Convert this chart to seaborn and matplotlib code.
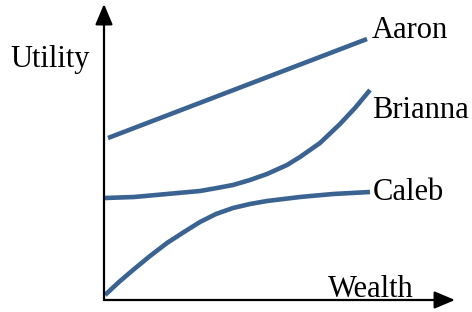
import matplotlib
matplotlib.use("Agg")
import matplotlib.pyplot as plt
import seaborn as sns
import pandas as pd

sns.set_theme(style="white")
plt.rcParams['font.family'] = ['Liberation Serif', 'DejaVu Serif']

# Values (wealth, utility in arbitrary units)
aaron_w = [4, 263]
aaron_u = [162, 261]
brianna_w = [1, 30, 63, 96, 113, 129, 146, 163, 183, 196, 216, 236, 251, 266]
brianna_u = [102, 103, 106, 109, 112, 115, 120, 126, 135, 143, 157, 176, 192, 210]
caleb_w = [1, 15, 29, 46, 63, 80, 96, 112, 129, 146, 163, 196, 229, 266]
caleb_u = [5, 18, 30, 44, 57, 68, 78, 86, 92, 96, 99, 103, 106, 108]
names = ["Aaron", "Brianna", "Caleb"]

rows = []
for n, ws, us in zip(names, [aaron_w, brianna_w, caleb_w], [aaron_u, brianna_u, caleb_u]):
    for w, u in zip(ws, us):
        rows.append({"name": n, "wealth": w, "utility": u})
df = pd.DataFrame(rows)

color = "#3b6392"
fig = plt.figure(figsize=(4.72, 3.12), dpi=100)
ax = fig.add_axes([104/472, 12/312, 368/472, 300/312])
sns.lineplot(data=df, x="wealth", y="utility", hue="name", units="name", estimator=None,
             sort=False, palette=[color]*3, linewidth=3.3, legend=False, ax=ax,
             solid_capstyle="butt", solid_joinstyle="round")
ax.set_xlim(0, 368)
ax.set_ylim(0, 300)
for s in ax.spines.values():
    s.set_visible(False)
ax.set_xticks([]); ax.set_yticks([])
ax.set_xlabel(""); ax.set_ylabel("")
ax.patch.set_alpha(0)

arrow = dict(arrowstyle="-|>,head_length=0.9,head_width=0.38", color="black", lw=1.6,
             shrinkA=0, shrinkB=0, mutation_scale=14)
ax.annotate("", xy=(351, 0), xytext=(0, 0), arrowprops=arrow, annotation_clip=False)
ax.annotate("", xy=(0, 296), xytext=(0, 0), arrowprops=arrow, annotation_clip=False)

fs = 22
tk = dict(fontsize=fs, va="baseline", ha="left", clip_on=False, color="black")
ax.text(-94, 233, "Utility", **tk)
ax.text(224, 3, "Wealth", **tk)
ax.text(268, 262, "Aaron", **tk)
ax.text(268, 182, "Brianna", **tk)
ax.text(269, 100, "Caleb", **tk)

fig.savefig("out.png", dpi=100)
